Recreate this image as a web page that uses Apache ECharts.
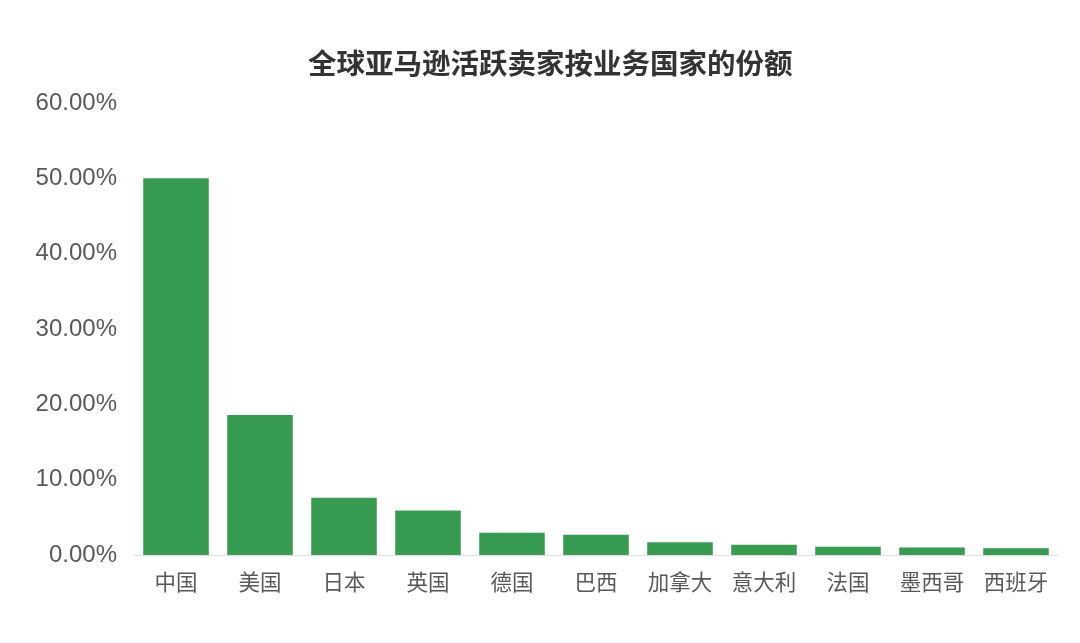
<!DOCTYPE html>
<html><head><meta charset="utf-8">
<script src="https://cdn.jsdelivr.net/npm/echarts@6/dist/echarts.min.js"></script>
<style>html,body{margin:0;padding:0;background:#fff}#c{width:1080px;height:643px}</style>
</head><body><div id="c"></div>
<script>
const categories = ['中国','美国','日本','英国','德国','巴西','加拿大','意大利','法国','墨西哥','西班牙'];
const shares = [50.0, 18.6, 7.6, 5.9, 2.95, 2.7, 1.7, 1.35, 1.1, 1.0, 0.9];
const chart = echarts.init(document.getElementById('c'));
const font = '"Noto Sans CJK SC", "Noto Sans", sans-serif';
const latin = '"Liberation Sans", Arial, sans-serif';
chart.setOption({
  backgroundColor: '#fff',
  title: {
    text: '全球亚马逊活跃卖家按业务国家的份额',
    left: 303, top: 44,
    textStyle: { fontFamily: font, fontSize: 28.5, fontWeight: 'bold', color: '#333' }
  },
  grid: { left: 134, right: 22, top: 103, bottom: 88 },
  xAxis: {
    type: 'category', data: categories,
    axisTick: { show: false },
    axisLine: { lineStyle: { color: '#e0e0e0' } },
    axisLabel: { interval: 0, fontFamily: font, fontSize: 21.5, color: '#595959', margin: 16 }
  },
  yAxis: {
    type: 'value', min: 0, max: 60, interval: 10,
    splitLine: { show: false },
    axisLine: { show: false }, axisTick: { show: false },
    axisLabel: { fontFamily: latin, fontSize: 24, color: '#595959', margin: 17,
      formatter: v => v.toFixed(2) + '%' }
  },
  series: [{
    type: 'bar', data: shares, barCategoryGap: '22%',
    itemStyle: { color: '#389b52' }
  }]
});
</script></body></html>
